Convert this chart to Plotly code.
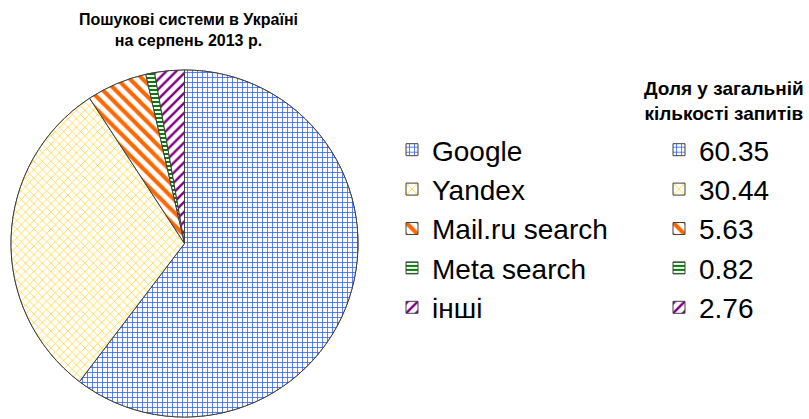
import plotly.graph_objects as go

W, H = 809, 419

engines = ["Google", "Yandex", "Mail.ru search", "Meta search", "інші"]
shares = [60.35, 30.44, 5.63, 0.82, 2.76]
share_labels = ["60.35", "30.44", "5.63", "0.82", "2.76"]

fg_colors = ["#3366ff", "#ffcc00", "#ff6600", "#008000", "#800080"]
shapes = ["+", "x", "\\", "-", "/"]
sizes = [5, 6, 9, 4, 7]
solidity = [0.3, 0.2, 0.45, 0.5, 0.35]

title_lines = ["Пошукові системи в Україні", "на серпень 2013 р."]
legend_header = ["Доля у загальній", "кількості запитів"]

FONT = "Arial, Liberation Sans, sans-serif"

def px_x(x):
    return x / W

def px_y(y):
    return 1 - y / H

domain = dict(x=[px_x(11), px_x(358)], y=[px_y(417), px_y(70)])

def pie(labels, legend):
    return go.Pie(
        labels=labels,
        values=shares,
        sort=False,
        direction="clockwise",
        rotation=0,
        textinfo="none",
        hoverinfo="label+value",
        domain=domain,
        legend=legend,
        marker=dict(
            colors=fg_colors,
            line=dict(color="#404040", width=1),
            pattern=dict(
                shape=shapes,
                fgcolor=fg_colors,
                bgcolor="white",
                size=sizes,
                solidity=solidity,
                fillmode="replace",
            ),
        ),
    )

fig = go.Figure()
fig.add_trace(pie(engines, "legend"))
fig.add_trace(pie(share_labels, "legend2"))

legend_common = dict(
    font=dict(family=FONT, size=28, color="black"),
    bgcolor="rgba(0,0,0,0)",
    borderwidth=0,
    yanchor="top",
    xanchor="left",
    y=px_y(125),
    itemclick=False,
    itemdoubleclick=False,
)

fig.update_layout(
    width=W,
    height=H,
    margin=dict(l=0, r=0, t=0, b=0),
    paper_bgcolor="white",
    plot_bgcolor="white",
    showlegend=True,
    legend=dict(x=px_x(392), **legend_common),
    legend2=dict(x=px_x(659), **legend_common),
    annotations=[
        dict(
            text="<b>" + "<br>".join(title_lines) + "</b>",
            x=px_x(188), y=px_y(9), xref="paper", yref="paper",
            xanchor="center", yanchor="top", showarrow=False, align="center",
            font=dict(family=FONT, size=16, color="black"),
        ),
        dict(
            text="<b>" + "<br>".join(legend_header) + "</b>",
            x=px_x(806), y=px_y(76), xref="paper", yref="paper",
            xanchor="right", yanchor="top", showarrow=False, align="center",
            font=dict(family=FONT, size=19, color="black"),
        ),
    ],
)

fig.write_html(
    "out.html",
    config={"displayModeBar": False},
    post_script="document.body.style.margin='0px';",
)
